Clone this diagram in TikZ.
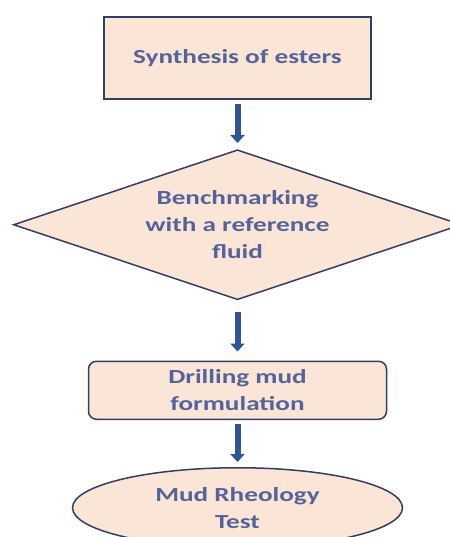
\documentclass[tikz,border=0pt]{standalone}
\usepackage{fontspec}
\setmainfont{Carlito}[FakeStretch=1.36]
\definecolor{mudfill}{RGB}{251,229,214}
\definecolor{mudline}{RGB}{50,62,100}
\definecolor{mudtext}{RGB}{84,100,155}
\definecolor{mudarrow}{RGB}{47,85,151}
\usetikzlibrary{positioning}
\usetikzlibrary{shapes.geometric,arrows.meta}
\tikzset{
  stage/.style={fill=mudfill, draw=mudline, text=mudtext, align=center, inner sep=0pt,
    line width=1.5pt, font=\fontsize{20}{27}\selectfont\bfseries},
  flow/.style={draw=mudarrow, line width=6pt, -{Triangle[width=14pt,length=8pt]}}
}

\begin{document}
\begin{tikzpicture}
  \useasboundingbox (0,0) rectangle (449pt,-537pt);

  \node[stage, line width=2pt, minimum width=267pt, minimum height=82pt] (synth) at (237.5pt,-58pt) {Synthesis of esters};
  \node[stage, diamond, aspect=3, minimum width=448pt, minimum height=150pt, below=49pt of synth] (bench) {Benchmarking\\with a reference\\fluid};
  \node[stage, rounded corners=8pt, minimum width=298pt, minimum height=58pt, below=60pt of bench] (drill) {Drilling mud\\formulation};
  \node[stage, ellipse, minimum width=330pt, minimum height=80pt, below=47pt of drill] (rheo) {Mud Rheology\\Test};

  \draw [flow, shorten <=4pt, shorten >=6pt] (synth) -- (bench);
  \draw [flow, shorten <=12pt, shorten >=9pt] (bench) -- (drill);
  \draw [flow, shorten <=4pt, shorten >=5pt] (drill) -- (rheo);

\end{tikzpicture}
\end{document}
